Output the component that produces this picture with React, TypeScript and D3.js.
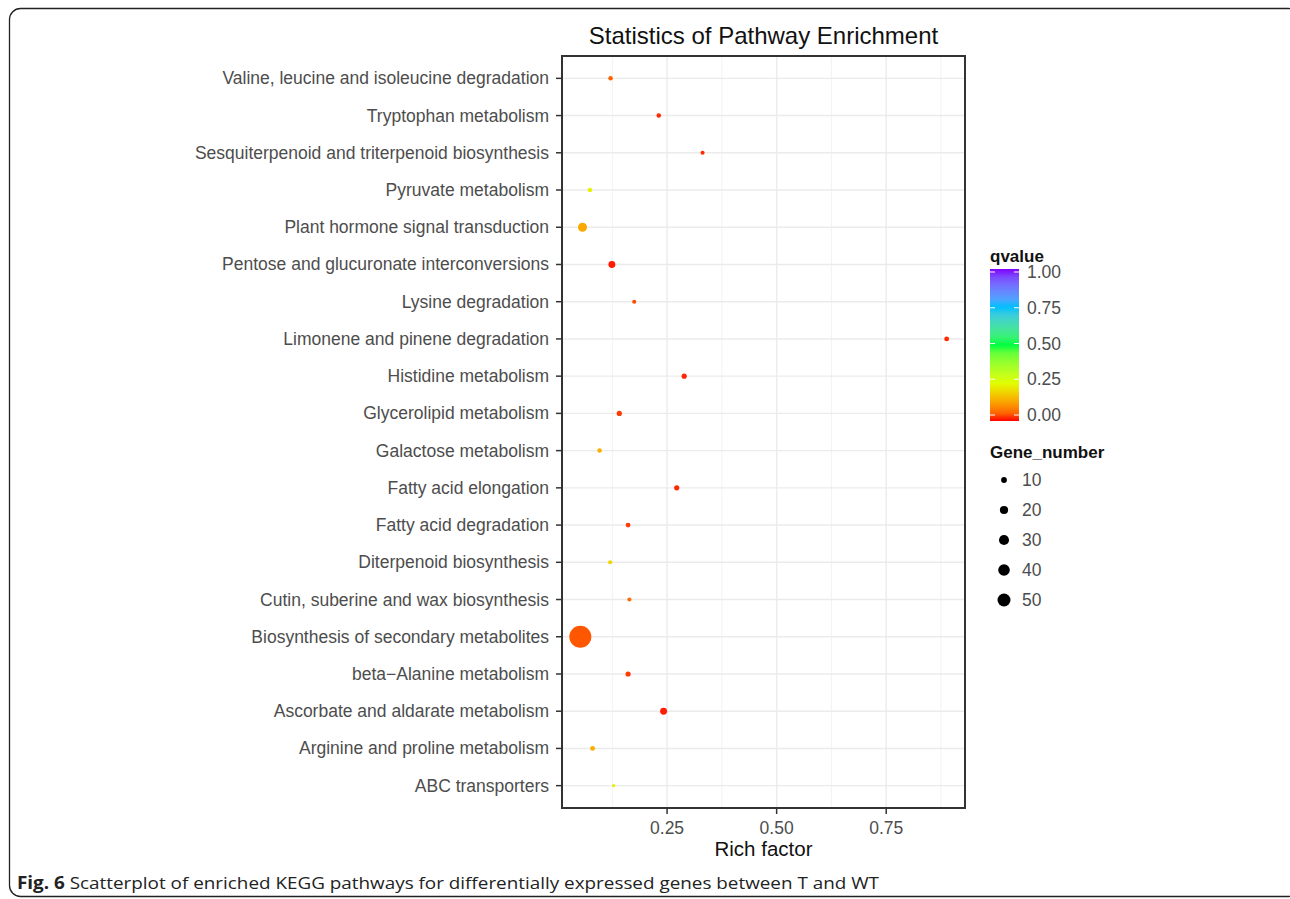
import React from "react";
import * as d3 from "d3";

const pathways = [
  "Valine, leucine and isoleucine degradation",
  "Tryptophan metabolism",
  "Sesquiterpenoid and triterpenoid biosynthesis",
  "Pyruvate metabolism",
  "Plant hormone signal transduction",
  "Pentose and glucuronate interconversions",
  "Lysine degradation",
  "Limonene and pinene degradation",
  "Histidine metabolism",
  "Glycerolipid metabolism",
  "Galactose metabolism",
  "Fatty acid elongation",
  "Fatty acid degradation",
  "Diterpenoid biosynthesis",
  "Cutin, suberine and wax biosynthesis",
  "Biosynthesis of secondary metabolites",
  "beta\u2212Alanine metabolism",
  "Ascorbate and aldarate metabolism",
  "Arginine and proline metabolism",
  "ABC transporters",
];
const richFactor = [0.121, 0.231, 0.331, 0.074, 0.057, 0.124, 0.175, 0.888, 0.289, 0.141, 0.096, 0.272, 0.161, 0.12, 0.164, 0.052, 0.161, 0.242, 0.08, 0.128];
const qValue = [0.05, 0.01, 0.01, 0.23, 0.13, 0.005, 0.03, 0.01, 0.01, 0.02, 0.14, 0.01, 0.02, 0.19, 0.06, 0.04, 0.02, 0.005, 0.14, 0.23];
const geneNumber = [6, 6, 5, 6, 24, 14, 5, 7, 8, 8, 6, 8, 7, 5, 5, 143, 8, 14, 7, 3];

const xTicks = [0.25, 0.5, 0.75];
const xMinor = [0.125, 0.375, 0.625, 0.875];
const qTicks = [0, 0.25, 0.5, 0.75, 1];
const sizeBreaks = [10, 20, 30, 40, 50];
const rainbowColours = ["#FF0000", "#DFFF00", "#00FF40", "#00BFFF", "#8000FF"];

const title = "Statistics of Pathway Enrichment";
const xLabel = "Rich factor";
const captionBold = "Fig. 6";
const captionText = " Scatterplot of enriched KEGG pathways for differentially expressed genes between T and WT";

export default function App() {
  const W = 1290, H = 899;
  const panel = { left: 562, right: 965, top: 56, bottom: 808 };
  const ext = d3.extent(richFactor) as [number, number];
  const pad = (ext[1] - ext[0]) * 0.05;
  const x = d3.scaleLinear().domain([ext[0] - pad, ext[1] + pad]).range([panel.left, panel.right]);
  const y = d3.scalePoint<string>().domain(pathways).range([panel.top, panel.bottom]).padding(0.6);
  const r = d3.scaleSqrt().domain([0, 50]).range([0, 6.5]);
  const color = d3.scaleLinear<string>().domain(qTicks).range(rainbowColours).interpolate(d3.interpolateLab);

  const bar = { x: 990, y0: 269, y1: 421, w: 29 };
  const qy = d3.scaleLinear().domain([0, 1]).range([bar.y1 - 6, bar.y0 + 3]);
  const gradStops = d3.range(0, 1.0001, 0.05);

  const axisText = "#4D4D4D";
  const font = "'Liberation Sans', Arial, Helvetica, sans-serif";
  const fs = 17.5;

  const order = d3.range(pathways.length).sort((a, b) => geneNumber[b] - geneNumber[a]);

  return (
    <div style={{ position: "absolute", left: 0, top: 0 }}>
      <svg width={W} height={H} style={{ display: "block", background: "#fff" }} fontFamily={font}>
        <defs>
          <linearGradient id="qgrad" x1="0" y1="1" x2="0" y2="0">
            {gradStops.map((s) => (
              <stop key={s} offset={String(s)} stopColor={color(s)} />
            ))}
          </linearGradient>
        </defs>
        <rect x={9.5} y={8.5} width={1290} height={888} rx={11} fill="#fff" stroke="#222" strokeWidth={1.3} />

        <text x={(panel.left + panel.right) / 2} y={44} textAnchor="middle" fontSize={24} fill="#111">
          {title}
        </text>

        <rect x={panel.left} y={panel.top} width={panel.right - panel.left} height={panel.bottom - panel.top} fill="#fff" />
        {xMinor.map((t) => (
          <line key={"mn" + t} x1={x(t)} x2={x(t)} y1={panel.top} y2={panel.bottom} stroke="#F2F2F2" strokeWidth={1} />
        ))}
        {xTicks.map((t) => (
          <line key={"mj" + t} x1={x(t)} x2={x(t)} y1={panel.top} y2={panel.bottom} stroke="#EBEBEB" strokeWidth={1.4} />
        ))}
        {pathways.map((p) => (
          <line key={"hg" + p} x1={panel.left} x2={panel.right} y1={y(p)} y2={y(p)} stroke="#EBEBEB" strokeWidth={1.4} />
        ))}

        {order.map((i) => (
          <circle key={"pt" + i} cx={x(richFactor[i])} cy={y(pathways[i])} r={r(geneNumber[i])} fill={color(qValue[i])} />
        ))}

        <rect x={panel.left} y={panel.top} width={panel.right - panel.left} height={panel.bottom - panel.top} fill="none" stroke="#333" strokeWidth={2} />

        {pathways.map((p) => (
          <g key={"yl" + p}>
            <line x1={panel.left - 6} x2={panel.left} y1={y(p)} y2={y(p)} stroke="#333" strokeWidth={1.5} />
            <text x={panel.left - 13} y={(y(p) as number) + 6} textAnchor="end" fontSize={fs} fill={axisText}>
              {p}
            </text>
          </g>
        ))}

        {xTicks.map((t) => (
          <g key={"xt" + t}>
            <line x1={x(t)} x2={x(t)} y1={panel.bottom} y2={panel.bottom + 6} stroke="#333" strokeWidth={1.5} />
            <text x={x(t)} y={panel.bottom + 26} textAnchor="middle" fontSize={fs} fill={axisText}>
              {d3.format(".2f")(t)}
            </text>
          </g>
        ))}
        <text x={(panel.left + panel.right) / 2} y={856} textAnchor="middle" fontSize={20.5} fill="#111">
          {xLabel}
        </text>

        <text x={bar.x} y={262} fontSize={17} fontWeight="bold" fill="#111">qvalue</text>
        <rect x={bar.x} y={bar.y0} width={bar.w} height={bar.y1 - bar.y0} fill="url(#qgrad)" />
        {qTicks.map((t) => (
          <g key={"qt" + t}>
            <line x1={bar.x} x2={bar.x + 5} y1={qy(t)} y2={qy(t)} stroke="#fff" strokeWidth={1} />
            <line x1={bar.x + bar.w - 5} x2={bar.x + bar.w} y1={qy(t)} y2={qy(t)} stroke="#fff" strokeWidth={1} />
            <text x={bar.x + 37} y={qy(t) + 6} fontSize={fs} fill={axisText}>
              {d3.format(".2f")(t)}
            </text>
          </g>
        ))}

        <text x={bar.x} y={458} fontSize={17} fontWeight="bold" fill="#111">Gene_number</text>
        {sizeBreaks.map((s, i) => (
          <g key={"sb" + s}>
            <circle cx={1004} cy={480 + i * 30} r={r(s)} fill="#000" />
            <text x={1022} y={480 + i * 30 + 6} fontSize={fs} fill={axisText}>
              {s}
            </text>
          </g>
        ))}

        <text x={17} y={889} fontSize={17} fill="#222" fontFamily="'Liberation Sans Narrow', 'Open Sans', sans-serif" textLength={862} lengthAdjust="spacingAndGlyphs">
          <tspan fontWeight="bold">{captionBold}</tspan>
          <tspan>{captionText}</tspan>
        </text>
      </svg>
    </div>
  );
}
